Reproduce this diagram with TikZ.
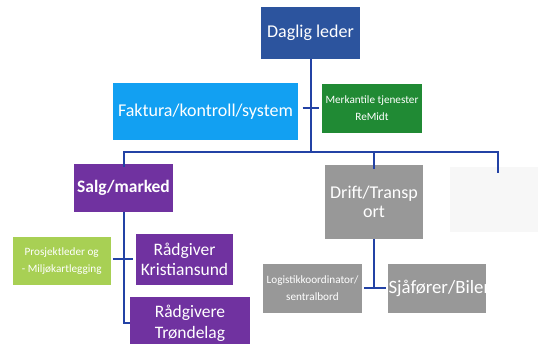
\documentclass[tikz,border=0pt]{standalone}
\usepackage{fontspec}
\setmainfont{Carlito}
\usepackage{tikz}
\usetikzlibrary{positioning}

\definecolor{lederblue}{RGB}{44,84,158}
\definecolor{fakturablue}{RGB}{18,160,242}
\definecolor{merkgreen}{RGB}{32,138,52}
\definecolor{salgpurple}{RGB}{112,50,160}
\definecolor{prosjgreen}{RGB}{168,208,84}
\definecolor{driftgray}{RGB}{152,152,152}
\definecolor{linkblue}{RGB}{35,66,165}

\begin{document}
\begin{tikzpicture}[x=1pt,y=-1pt,
    orgbox/.style={inner sep=1pt, align=center, text=white, font=\fontsize{18}{20}\selectfont},
    smallbox/.style={orgbox, font=\fontsize{11.2}{17}\selectfont},
    link/.style={draw=linkblue, line width=2pt}]
        \clip (0,0) rectangle (538,344);
        \fill[white] (0,0) rectangle (538,344);
        % top level
        \node[orgbox, fill=lederblue, minimum width=99pt, minimum height=52pt] (leder) at (310.5,33) {Daglig leder};
        \node[orgbox, fill=fakturablue, minimum width=185pt, minimum height=57pt] (faktura) at (205.5,111.5) {\raisebox{-6pt}{Faktura/kontroll/system}};
        \node[smallbox, fill=merkgreen, minimum width=100pt, minimum height=49pt] (merkantil) at (372,108.5) {Merkantile tjenester\\ReMidt};
        % second level
        \node[orgbox, fill=salgpurple, minimum width=99pt, minimum height=48pt, font=\bfseries\fontsize{17.5}{20}\selectfont] (salg) at (123.5,188) {Salg/marked};
        \node[orgbox, fill=driftgray, minimum width=98pt, minimum height=74pt, font=\fontsize{18}{19}\selectfont] (drift) at (374,202) {Drift/Transp\\ort};
        \node[orgbox, fill=black!3, minimum width=95pt, minimum height=65pt] (tom) at (497.5,199.5) {};
        % under Salg/marked
        \node[smallbox, fill=prosjgreen, minimum width=98pt, minimum height=48pt] (prosjekt) at (61.7,261) {Prosjektleder og\\- Miljøkartlegging};
        \node[orgbox, fill=salgpurple, minimum width=97pt, minimum height=51pt, font=\fontsize{17.5}{20}\selectfont] (kristiansund) at (184.5,259.5) {Rådgiver\\Kristiansund};
        \node[orgbox, fill=salgpurple, minimum width=120pt, minimum height=53pt, font=\fontsize{17.5}{20}\selectfont] (trondelag) at (190,323.5) {\raisebox{1pt}{Rådgivere}\\Trøndelag};
        % under Drift/Transport
        \node[smallbox, fill=driftgray, minimum width=99pt, minimum height=49pt] (logistikk) at (312.5,288.5) {Logistikkoordinator/\\sentralbord};
        \node[orgbox, fill=driftgray, minimum width=98pt, minimum height=49pt] (sjafor) at (437,288.5) {};
        \begin{scope}
            \clip (sjafor.south west) rectangle (sjafor.north east);
            \node[orgbox, anchor=west, inner sep=0.5pt, font=\fontsize{18.8}{20}\selectfont] (sjafortekst) at (sjafor.west) {Sjåfører/Biler};
        \end{scope}

        % connectors
        \coordinate (bus) at (310.5,152);
        \coordinate (asst) at (310.5,108);
        \draw[link] (leder.south) -- (bus);
        \draw[link] ([xshift=-8pt]asst) -- ([xshift=8pt]asst);
        \draw[link] ([yshift=-3pt]salg.north) -- (salg.north |- bus) -- (tom.north |- bus) -- ([yshift=-6pt]tom.north);
        \draw[link] (drift.north |- bus) -- ([yshift=-4pt]drift.north);
        \draw[link] (salg.south) -- (salg.south |- trondelag.west) -- (trondelag.west);
        \draw[link] ([xshift=2pt]prosjekt.east |- kristiansund.west) -- ([xshift=-3pt]kristiansund.west);
        \draw[link] (drift.south) -- (drift.south |- logistikk.east);
        \draw[link] ([xshift=2pt]logistikk.east) -- ([xshift=-2pt]sjafor.west);
    \end{tikzpicture}
\end{document}
